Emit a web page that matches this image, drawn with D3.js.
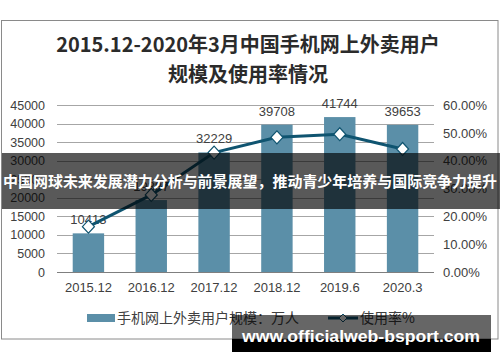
<!DOCTYPE html>
<meta charset="utf-8">
<head>
<style>
  body { margin: 0; background: #fff; }
  text { font-family: "Liberation Sans", Arial, sans-serif; }
  .cjk { font-family: "Noto Sans CJK SC", sans-serif; }
</style>
</head>
<body>
<script src="https://cdnjs.cloudflare.com/ajax/libs/d3/7.8.5/d3.min.js"></script>
<script>

const categories = ["2015.12", "2016.12", "2017.12", "2018.12", "2019.6", "2020.3"];
const users = [10413, 19387, 32229, 39708, 41744, 39653];
const rate = [16.3, 27.7, 42.9, 48.4, 49.5, 44.2];
const leftTicks = [0, 5000, 10000, 15000, 20000, 25000, 30000, 35000, 40000, 45000];
const rightTicks = [0, 10, 20, 30, 40, 50, 60];
const titleLines = ["2015.12-2020年3月中国手机网上外卖用户", "规模及使用率情况"];
const legendLabels = ["手机网上外卖用户规模：万人", "使用率%"];
const bannerText = "中国网球未来发展潜力分析与前景展望，推动青少年培养与国际竞争力提升";
const siteText = "www.officialweb-bsport.com";

const W = 500, H = 362;
const plot = {left: 57, right: 434, top: 105, bottom: 272};
const barColor = "#5b8fa8", lineColor = "#0f5470";

const svg = d3.select("body").append("svg")
  .attr("width", W).attr("height", H);

// frame
svg.append("rect")
  .attr("x", 1.5).attr("y", 20.5).attr("width", 496.5).attr("height", 318.5)
  .attr("fill", "#fff").attr("stroke", "#8a8a8a");

// title
svg.append("g").selectAll("text")
  .data(titleLines)
  .join("text")
    .attr("class", "cjk")
    .attr("x", 248).attr("y", (d, i) => 52 + i * 30)
    .attr("text-anchor", "middle")
    .attr("font-size", 20).attr("font-weight", "bold")
    .attr("fill", "#2b2b2b")
    .text(d => d);

const x = d3.scaleBand().domain(categories).range([plot.left, plot.right]).paddingInner(0.5).paddingOuter(0.25);
const xc = d => x(d) + x.bandwidth() / 2;
const y = d3.scaleLinear().domain([0, 45000]).range([plot.bottom, plot.top]);
const y2 = d3.scaleLinear().domain([0, 60]).range([plot.bottom, plot.top]);

// grid
svg.append("g").selectAll("line")
  .data(leftTicks.slice(1))
  .join("line")
    .attr("x1", plot.left).attr("x2", plot.right)
    .attr("y1", d => Math.round(y(d)) + 0.5).attr("y2", d => Math.round(y(d)) + 0.5)
    .attr("stroke", "#a6a6a6");

// left axis
const yAxis = d3.axisLeft(y).tickValues(leftTicks).tickSize(0).tickPadding(0).tickFormat(d3.format("d"));
svg.append("g")
  .attr("transform", "translate(45,0)")
  .call(yAxis)
  .call(g => g.select(".domain").remove())
  .selectAll("text").attr("font-size", 12.5).attr("fill", "#404040")
  .attr("font-family", "Liberation Sans, Arial, sans-serif");

// right axis
const y2Axis = d3.axisRight(y2).tickValues(rightTicks).tickSize(0).tickPadding(0).tickFormat(d => d.toFixed(2) + "%");
svg.append("g")
  .attr("transform", "translate(443,0)")
  .call(y2Axis)
  .call(g => g.select(".domain").remove())
  .selectAll("text").attr("font-size", 13).attr("fill", "#404040")
  .attr("font-family", "Liberation Sans, Arial, sans-serif");

// bars
svg.append("g").selectAll("rect")
  .data(users)
  .join("rect")
    .attr("x", (d, i) => x(categories[i]))
    .attr("width", x.bandwidth())
    .attr("y", d => y(d))
    .attr("height", d => y(0) - y(d))
    .attr("fill", barColor);

// baseline + x axis
const xAxis = d3.axisBottom(x).tickSize(0).tickPadding(11);
svg.append("g")
  .attr("transform", `translate(0,${plot.bottom})`)
  .call(xAxis)
  .call(g => g.select(".domain").attr("stroke", "#7f7f7f").attr("d", `M${plot.left},0.5H${plot.right}`))
  .selectAll("text").attr("font-size", 13).attr("fill", "#404040")
  .attr("font-family", "Liberation Sans, Arial, sans-serif");

// bar labels
svg.append("g").selectAll("text")
  .data(users)
  .join("text")
    .attr("x", (d, i) => xc(categories[i]))
    .attr("y", d => y(d) - 9)
    .attr("text-anchor", "middle")
    .attr("font-size", 13).attr("fill", "#404040")
    .text(d => d);

// rate line
const line = d3.line().x((d, i) => xc(categories[i])).y(d => y2(d));
svg.append("path")
  .datum(rate)
  .attr("d", line)
  .attr("fill", "none").attr("stroke", lineColor).attr("stroke-width", 3);

const diamond = "M0,-6.5L6,0L0,6.5L-6,0Z";
svg.append("g").selectAll("path")
  .data(rate)
  .join("path")
    .attr("d", diamond)
    .attr("transform", (d, i) => `translate(${xc(categories[i])},${y2(d)})`)
    .attr("fill", "#fff").attr("stroke", lineColor).attr("stroke-width", 1.2);

// legend
const lg = svg.append("g");
lg.append("rect").attr("x", 87).attr("y", 314).attr("width", 28).attr("height", 8).attr("fill", barColor);
lg.append("text").attr("class", "cjk").attr("x", 117).attr("y", 323)
  .attr("font-size", 14).attr("fill", "#404040").text(legendLabels[0]);
lg.append("line").attr("x1", 328).attr("x2", 358).attr("y1", 318).attr("y2", 318)
  .attr("stroke", lineColor).attr("stroke-width", 3);
lg.append("path").attr("d", "M0,-4L4,0L0,4L-4,0Z").attr("transform", "translate(343,318)")
  .attr("fill", "#fff").attr("stroke", lineColor);
lg.append("text").attr("class", "cjk").attr("x", 360).attr("y", 323)
  .attr("font-size", 14).attr("fill", "#404040").text(legendLabels[1]);

// overlay banner
svg.append("rect").attr("x", 2).attr("y", 153).attr("width", 498).attr("height", 56)
  .attr("fill", "#000").attr("opacity", 0.65);
svg.append("text").attr("class", "cjk")
  .attr("x", 250).attr("y", 186.5).attr("text-anchor", "middle")
  .attr("font-size", 15).attr("font-weight", "bold").attr("fill", "#fff")
  .attr("textLength", 494).attr("lengthAdjust", "spacingAndGlyphs")
  .text(bannerText);

// site watermark
svg.append("rect").attr("x", 232).attr("y", 315).attr("width", 259).attr("height", 24)
  .attr("fill", "#000").attr("opacity", 0.6);
svg.append("rect").attr("x", 232).attr("y", 339).attr("width", 259).attr("height", 13)
  .attr("fill", "#000");
svg.append("text")
  .attr("x", 242).attr("y", 342)
  .attr("font-family", "DejaVu Sans, sans-serif")
  .attr("font-size", 16).attr("font-weight", "bold").attr("fill", "#fff")
  .attr("textLength", 238).attr("lengthAdjust", "spacingAndGlyphs")
  .text(siteText);

</script>
</body>
